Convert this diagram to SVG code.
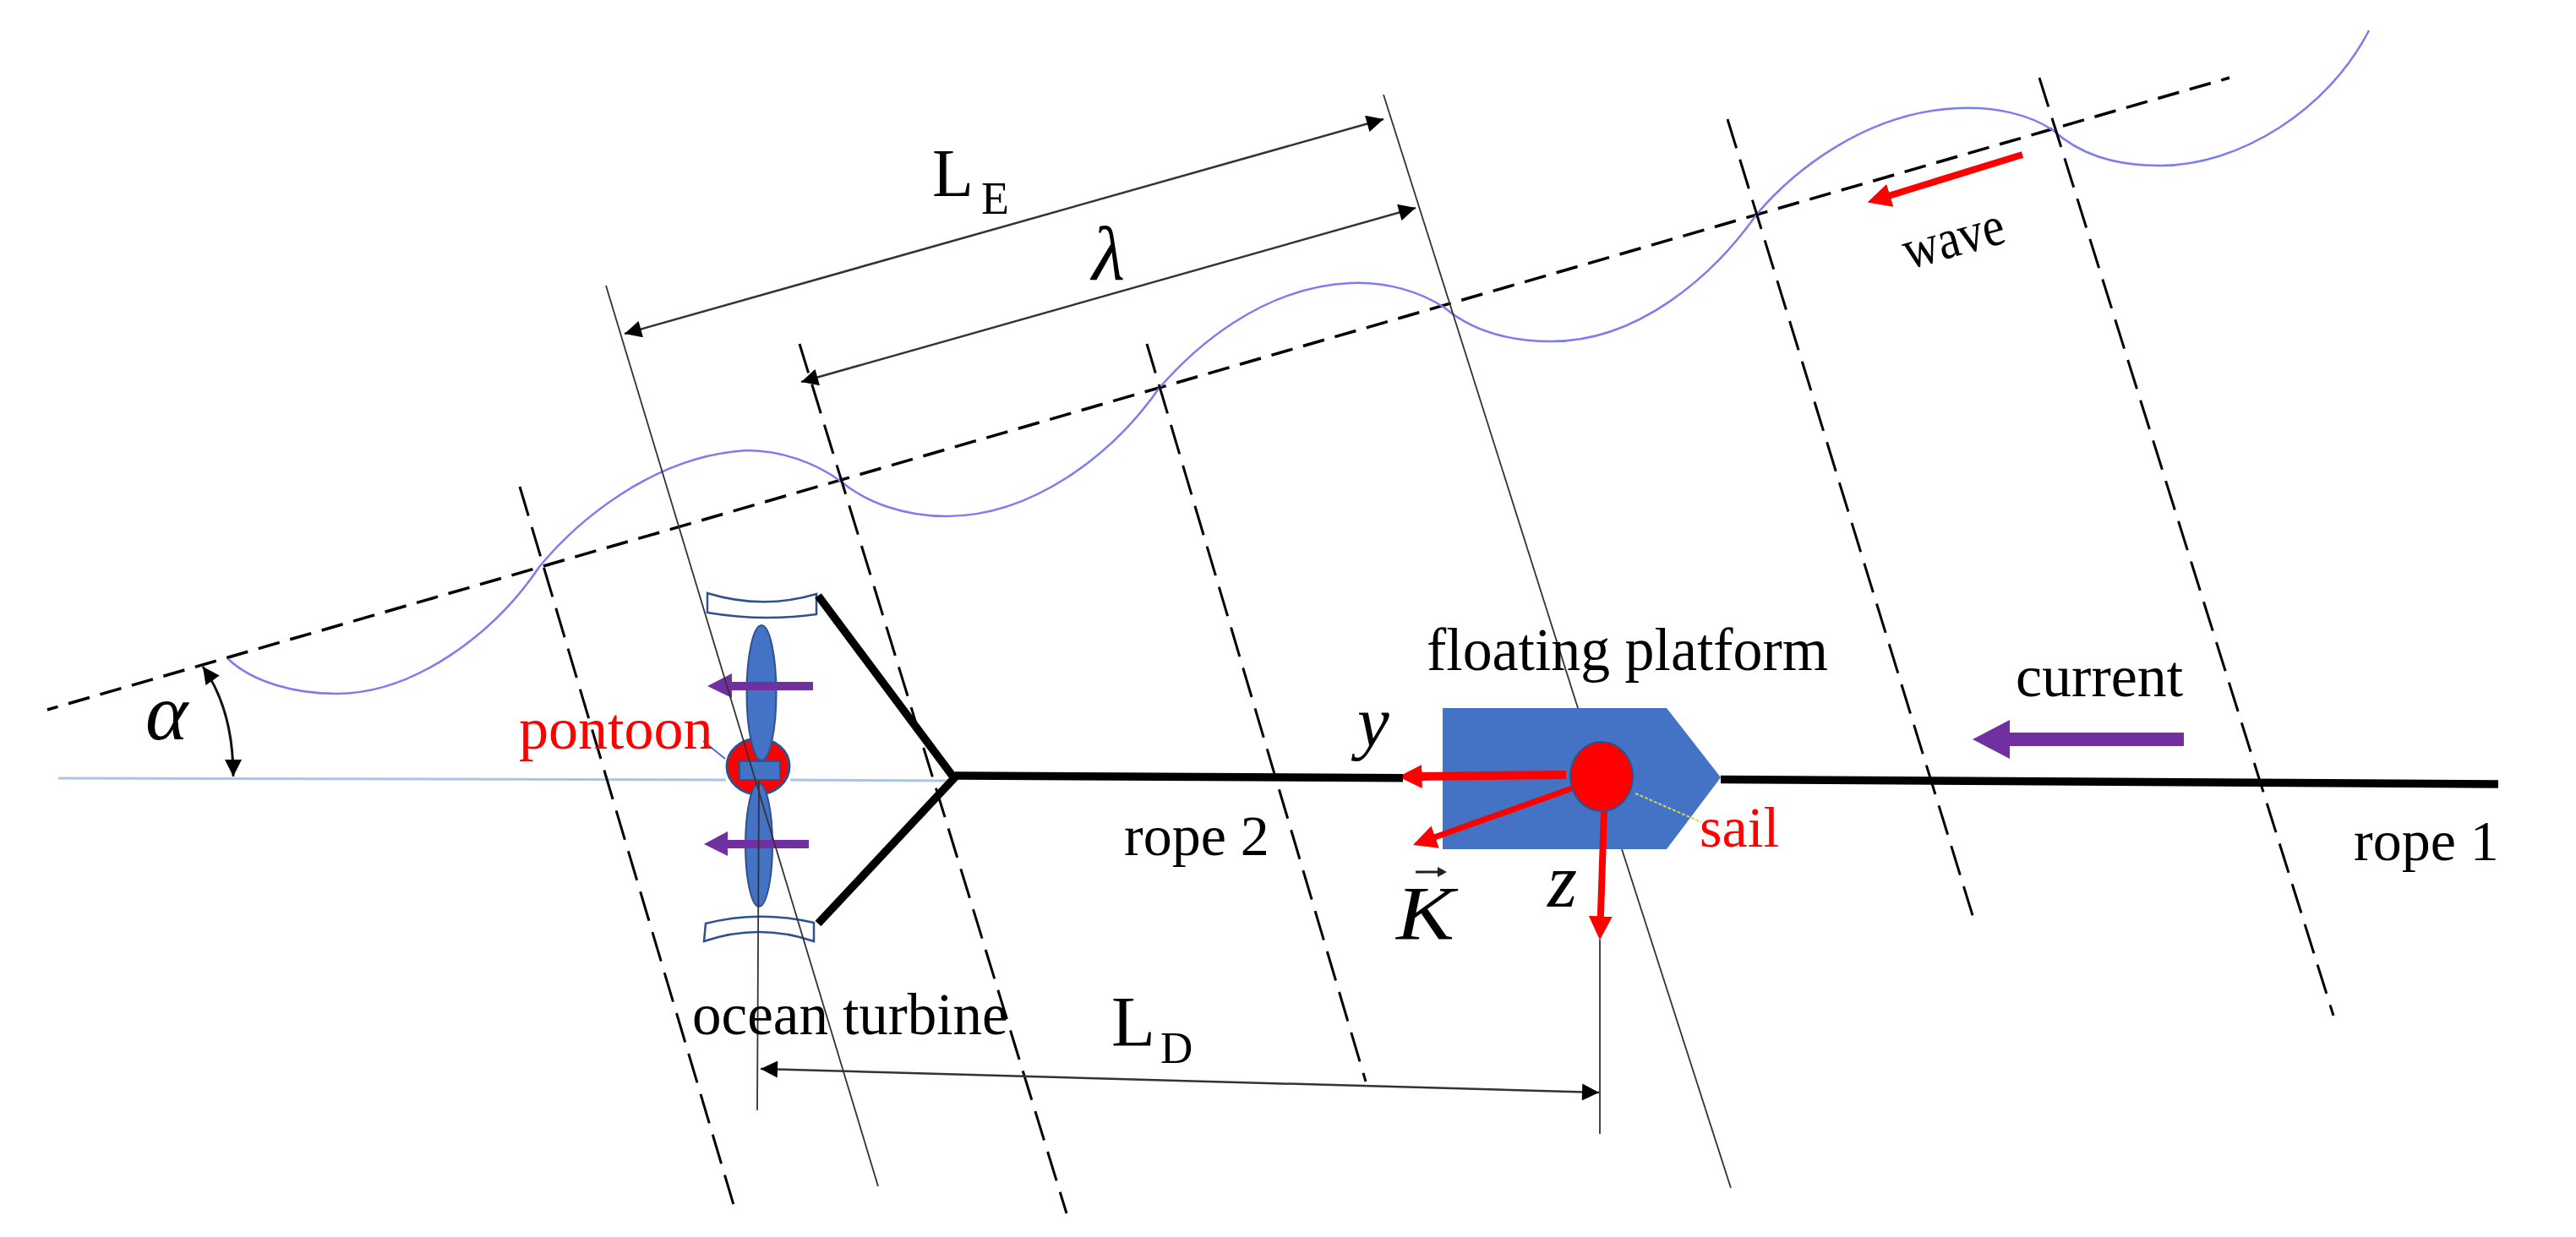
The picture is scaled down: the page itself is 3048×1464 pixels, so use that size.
<svg xmlns="http://www.w3.org/2000/svg" width="3048" height="1464" viewBox="0 0 3048 1464">
<style>
text{font-family:"Liberation Serif","Times New Roman",serif;fill:#000}
.red{fill:#f00}
.it{font-style:italic}
.thin{stroke:#333;stroke-width:1.8;fill:none}
.dash{stroke:#000;stroke-width:3;fill:none;stroke-dasharray:36 14}
.main{stroke:#000;stroke-width:3.5;fill:none;stroke-dasharray:26 13;stroke-dashoffset:13}
.dim{stroke:#333;stroke-width:2.5;fill:none;marker-start:url(#ak);marker-end:url(#ak)}
.rope{stroke:#000;stroke-width:9.5;fill:none}
.redl{stroke:#f00;fill:none;marker-end:url(#ar)}
.pur{fill:#7030a0}
.bl{fill:#4472c4;stroke:#2f528f;stroke-width:2}
.flo{fill:#fff;stroke:#2f528f;stroke-width:2.5}
.sky{stroke:#a9c4e8;stroke-width:3}
</style>
<defs>
<marker id="ak" viewBox="0 0 10 10" refX="10" refY="5" markerWidth="24" markerHeight="20" markerUnits="userSpaceOnUse" orient="auto-start-reverse"><path d="M0,0L10,5L0,10Z" fill="#000"/></marker>
<marker id="ar" viewBox="0 0 10 10" refX="2" refY="5" markerWidth="28" markerHeight="28" markerUnits="userSpaceOnUse" orient="auto"><path d="M0,0L10,5L0,10Z" fill="#f00"/></marker>
</defs>
<rect width="3048" height="1464" fill="#fff"/>
<g id="wave-arrow">
<line class="redl" x1="2393" y1="183" x2="2231" y2="233" stroke-width="8"/>
<text transform="translate(2258,319) rotate(-15.5) scale(1,1.15)" font-size="58">wave</text>
</g>
<g id="current-arrow">
<path class="pur" d="M2584,867H2378V852L2334,875L2378,898V883H2584Z"/>
<text x="2385" y="824" font-size="70">current</text>
</g>
<g id="turbine">
<path class="flo" d="M837,702Q902,722 966,703L966,727Q902,736 837,725Z"/>
<path class="flo" d="M835,1093Q898,1077 963,1092L963,1114Q898,1092 833,1114Z"/>
<line x1="832" y1="877" x2="858" y2="898" stroke="#4472c4" stroke-width="2"/>
<ellipse cx="897" cy="907" rx="37" ry="33" fill="#f00" stroke="#2f528f" stroke-width="3"/>
<ellipse class="bl" cx="901" cy="820" rx="17.5" ry="80"/>
<ellipse class="bl" cx="898" cy="1000" rx="16" ry="73"/>
<rect class="bl" x="875" y="901" width="48" height="22"/>
<path class="pur" d="M962,807H866V797L837,812L866,826V817H962Z"/>
<path class="pur" d="M957,994H861V984L833,999L861,1013V1004H957Z"/>
</g>
<g id="platform">
<path d="M1707,838H1972L2036,920L1972,1005H1707Z" fill="#4472c4"/>
<line x1="1935" y1="939" x2="2013" y2="973" stroke="#d4d84a" stroke-width="2" stroke-dasharray="4 2"/>
<line class="redl" x1="1853" y1="917" x2="1677" y2="919" stroke-width="10"/>
<line class="redl" x1="1860" y1="933" x2="1693" y2="992.5" stroke-width="7"/>
<line class="redl" x1="1898" y1="960" x2="1893.7" y2="1090" stroke-width="8"/>
<ellipse cx="1895" cy="919" rx="37" ry="41" fill="#f00" stroke="#2f528f" stroke-width="2"/>
<line x1="1675" y1="1032" x2="1704" y2="1032" stroke="#222" stroke-width="3"/>
<path d="M1712,1032l-11,-6v12z" fill="#222"/>
</g>
<g id="connectors">
<line class="sky" x1="69" y1="921" x2="859" y2="923"/>
<line class="sky" x1="935" y1="923" x2="1128" y2="924"/>
<line class="main" x1="56" y1="840" x2="2638" y2="92"/>
<path d="M270,780C300,808 350,821 398,821C490,821 585,750 638,671C680,620 770,540 883,533C925,533 965,548 994,569C1025,595 1070,611 1120,611C1220,611 1315,540 1371,460C1410,415 1490,340 1598,335C1640,333 1680,345 1709,364C1740,390 1780,404 1836,404C1936,404 2025,330 2079,253C2120,205 2205,133 2317,128C2360,126 2400,135 2429,154C2460,182 2500,196 2556,196C2650,196 2755,130 2803,36" fill="none" stroke="#7d7df0" stroke-width="2.5"/>
<line class="dash" x1="615" y1="576" x2="871" y2="1436"/>
<line class="dash" x1="946" y1="407" x2="1262" y2="1436"/>
<line class="dash" x1="1357" y1="407" x2="1616" y2="1280"/>
<line class="dash" x1="2044" y1="141" x2="2337" y2="1093"/>
<line class="dash" x1="2413" y1="92" x2="2761" y2="1202"/>
<line class="thin" x1="717" y1="338" x2="1039" y2="1404"/>
<line class="thin" x1="1637" y1="112" x2="1867" y2="838"/>
<line class="thin" x1="1919" y1="1005" x2="2048" y2="1406"/>
<line class="dim" x1="739" y1="395" x2="1637" y2="141"/>
<line class="dim" x1="948" y1="452" x2="1675" y2="246"/>
<line class="dim" x1="900" y1="1265" x2="1892" y2="1293"/>
<line class="thin" x1="898" y1="924" x2="896" y2="1314"/>
<line class="thin" x1="1893" y1="1112" x2="1893" y2="1342"/>
<path class="dim" d="M240,789C262,820 276,860 276,919" style="stroke:#111;stroke-width:3"/>
<path class="rope" d="M968,705L1129,921L968,1093"/>
<line class="rope" x1="1130" y1="918" x2="1660" y2="920.7"/>
<line class="rope" x1="2036" y1="922.4" x2="2956" y2="928"/>
</g>
<g id="labels">
<text x="1688" y="793" font-size="71" textLength="475" lengthAdjust="spacingAndGlyphs">floating platform</text>
<text x="2785" y="1018" font-size="68">rope 1</text>
<text x="1330" y="1012" font-size="68">rope 2</text>
<text class="red" x="2011" y="1002" font-size="68">sail</text>
<text class="red" x="614" y="886" font-size="70">pontoon</text>
<text x="819" y="1224" font-size="69">ocean turbine</text>
<text class="it" x="1606" y="883" font-size="85">y</text>
<text class="it" x="1652" y="1112" font-size="90" textLength="69" lengthAdjust="spacingAndGlyphs">K</text>
<text class="it" x="1831" y="1073" font-size="90">z</text>
<text class="it" x="172" y="875" font-size="96">α</text>
<text class="it" x="1292" y="331" font-size="90">λ</text>
<text x="1103" y="232" font-size="80">L</text>
<text x="1161" y="253" font-size="54">E</text>
<text x="1315" y="1238" font-size="85">L</text>
<text x="1373" y="1258" font-size="53">D</text>
</g>
</svg>
